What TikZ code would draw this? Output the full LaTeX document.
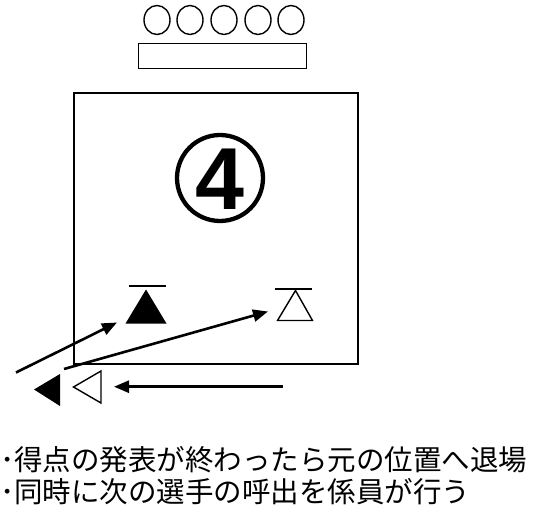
\documentclass[tikz,border=0pt]{standalone}
\usepackage{fontspec}
\setmainfont{Liberation Sans}
\newfontfamily\jp{Noto Sans CJK JP}
\usetikzlibrary{arrows.meta}
\begin{document}
\begin{tikzpicture}[x=1pt,y=-1pt,
  thinline/.style={line width=1.4pt},
  flow/.style={line width=2.6pt,-{Triangle[length=15pt,width=12pt]}},
  bar/.style={line width=2pt},
  note/.style={anchor=west, inner sep=0pt, font=\jp\fontsize{28.5}{30}\selectfont}]
\path[use as bounding box] (0,0) rectangle (536,508);
% spectators
\foreach \i/\x in {1/157,2/190,3/224,4/258,5/291}{
  \draw[thinline] (\x,20) ellipse [x radius=13, y radius=14.5];
}
\draw[thinline] (138.5,43.5) rectangle (306.5,68.5);
% court
\draw[thinline] (74,93) rectangle (358,364);
\node[circle, draw, line width=4.3pt, minimum size=86pt, inner sep=0pt] (num) at (220,178) {};
\node[font=\fontsize{88}{88}\selectfont\bfseries, inner sep=0pt] (four) at (220,179.5) {4};
% filled triangle in court
\fill (146,289.5) -- (166.5,323.5) -- (125.5,323.5) -- cycle;
\draw[bar] (129,286) -- (166,286);
% open triangle in court
\draw[thinline] (295.5,290.5) -- (312.5,320.5) -- (277.5,320.5) -- cycle;
\draw[bar] (275,289) -- (311.5,289);
% players outside
\fill (34,389.5) -- (60,374) -- (60,406) -- cycle;
\draw[thinline] (73.5,387) -- (101,371) -- (101,403) -- cycle;
% arrow end points
\coordinate (a1s) at (16,372.5);
\coordinate (a1e) at (117,322.5);
\coordinate (a2s) at (64,369);
\coordinate (a2e) at (268,311.5);
\coordinate (a3s) at (283,386.7);
\coordinate (a3e) at (114,386.7);
\draw[flow] (a1s) -- (a1e);
\draw[flow] (a2s) -- (a2e);
\draw[flow] (a3s) -- (a3e);
% text
\node[note] (t1) at (0,460) {･得点の発表が終わったら元の位置へ退場};
\node[note] (t2) at (0,492) {･同時に次の選手の呼出を係員が行う};
\end{tikzpicture}
\end{document}
